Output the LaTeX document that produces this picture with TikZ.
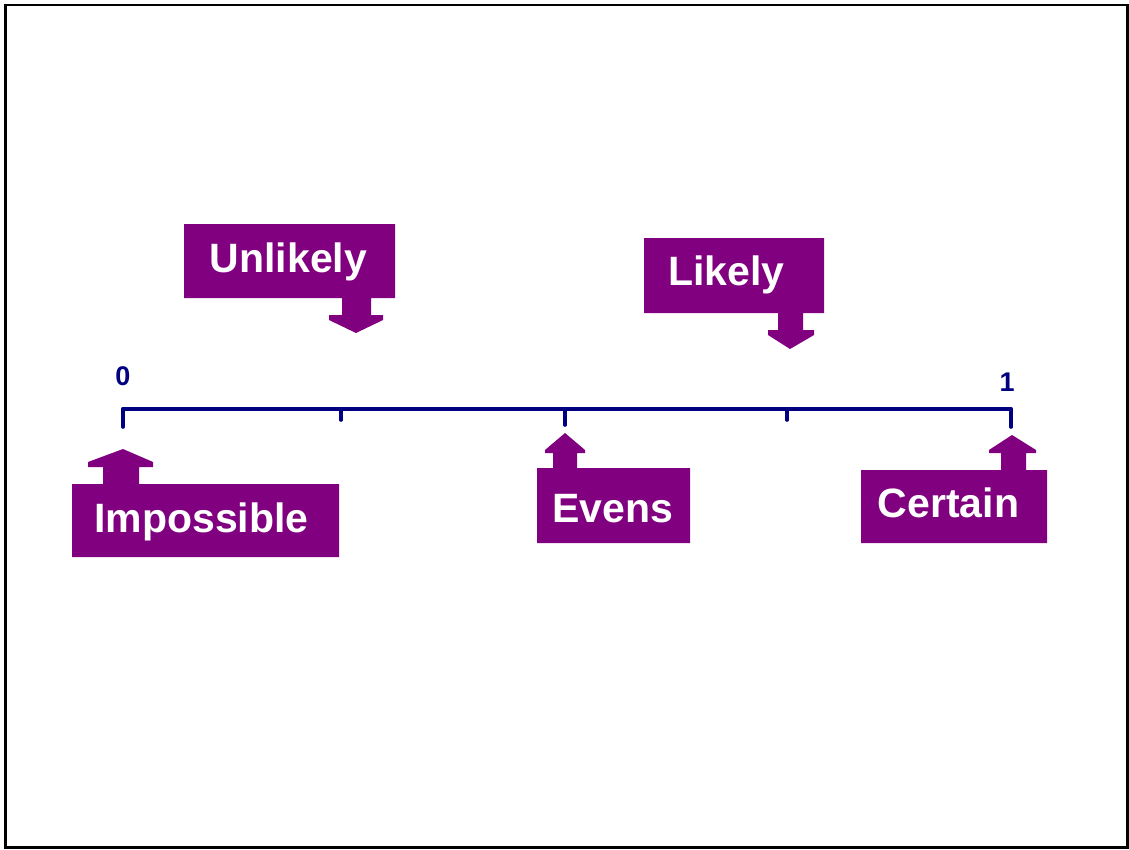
\documentclass[tikz,border=0pt]{standalone}
\usepackage{fontspec}
\setmainfont{Liberation Sans}
\definecolor{callpurple}{RGB}{128,0,128}
\definecolor{axisnavy}{RGB}{0,0,128}
\tikzset{
  callout/.style={fill=callpurple, draw=none},
  calltext/.style={text=white, font=\fontsize{41}{48}\selectfont\bfseries, inner sep=0pt, anchor=base},
  axisline/.style={draw=axisnavy, line width=3.6pt, line cap=round},
  axislabel/.style={text=axisnavy, font=\fontsize{27}{30}\selectfont\bfseries, inner sep=0pt},
  frame/.style={draw=black, line width=2.5pt}
}
\begin{document}
\begin{tikzpicture}[x=1pt,y=-1pt]
\useasboundingbox (0,0) rectangle (1129,849);
\draw[frame] (5.5,5) rectangle (1127.5,847.5);

% axis
\coordinate (t0) at (123,409);
\coordinate (t1) at (341,409);
\coordinate (t2) at (565,409);
\coordinate (t3) at (787,409);
\coordinate (t4) at (1011,409);
\draw[axisline] (t0) -- (t4);
\draw[axisline] (t0) -- ++(0,18);
\draw[axisline] (t1) -- ++(0,11);
\draw[axisline] (t2) -- ++(0,16);
\draw[axisline] (t3) -- ++(0,11);
\draw[axisline] (t4) -- ++(0,18);
\node[axislabel] (zero) at (123,376) {0};
\node[axislabel] (one) at (1007,382) {1};

% callouts
\fill[callout] (72,484)--(103,484)--(103,467)--(88,467)--(88,462)--(123,449)--(153,462)--(153,467)--(139,467)--(139,484)--(339,484)--(339,557)--(72,557)--cycle;
\node[calltext] (impossible) at (201.5,532) {Impossible};

\fill[callout] (184,224)--(395,224)--(395,298)--(371,298)--(371,315)--(383,315)--(383,320)--(356,333)--(329,320)--(329,315)--(342,315)--(342,298)--(184,298)--cycle;
\node[calltext] (unlikely) at (288.5,272) {Unlikely};

\fill[callout] (644,238)--(824,238)--(824,313)--(803,313)--(803,330)--(814,330)--(814,335)--(790,349)--(768,335)--(768,330)--(778,330)--(778,313)--(644,313)--cycle;
\node[calltext] (likely) at (726.5,285) {Likely};

\fill[callout] (537,468)--(553,468)--(553,453)--(545,453)--(545,450)--(565,433)--(585,450)--(585,453)--(577,453)--(577,468)--(690,468)--(690,543)--(537,543)--cycle;
\node[calltext] (evens) at (612.5,522) {Evens};

\fill[callout] (861,470)--(1001,470)--(1001,453)--(989,453)--(989,450)--(1012,435)--(1036,450)--(1036,453)--(1026,453)--(1026,470)--(1047,470)--(1047,543)--(861,543)--cycle;
\node[calltext] (certain) at (948.5,517) {Certain};
\end{tikzpicture}
\end{document}
